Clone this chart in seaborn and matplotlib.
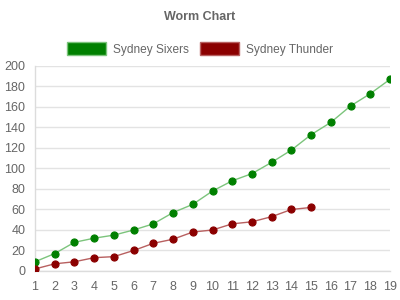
import matplotlib
matplotlib.use("Agg")
import matplotlib.pyplot as plt
from matplotlib.patches import Patch
import seaborn as sns
import pandas as pd

overs = list(range(1, 20))
sixers = [9, 17, 28, 32, 35, 40, 46, 57, 65, 78, 88, 95, 106, 118, 133, 145, 161, 173, 187]
thunder = [2, 7, 9, 13, 14, 20, 27, 31, 38, 40, 46, 48, 53, 60, 62]
teams = ["Sydney Sixers", "Sydney Thunder"]
point_colors = ["#008000", "#8b0000"]
line_colors = ["#7cc47c", "#b86060"]

df = pd.concat([
    pd.DataFrame({"over": overs[:len(sixers)], "runs": sixers, "team": teams[0]}),
    pd.DataFrame({"over": overs[:len(thunder)], "runs": thunder, "team": teams[1]}),
])

sns.set_style("white")
plt.rcParams['font.family'] = ['Liberation Sans', 'DejaVu Sans']

fig = plt.figure(figsize=(4, 3), dpi=100)
ax = fig.add_axes([0.0875, 0.0967, 0.8875, 0.6833])

for team, pc, lc in zip(teams, point_colors, line_colors):
    sub = df[df.team == team]
    sns.lineplot(data=sub, x="over", y="runs", color=lc, linewidth=1, ax=ax, zorder=2)
    sns.scatterplot(data=sub, x="over", y="runs", color=pc, s=26, edgecolor=pc,
                    linewidth=0.8, ax=ax, zorder=3)

ax.set_xlim(1, 19)
ax.set_ylim(0, 200)
ax.set_xticks(overs)
ax.set_xticklabels([str(o) for o in overs])
ax.set_yticks(range(0, 201, 20))
ax.set_xlabel("")
ax.set_ylabel("")
ax.grid(axis="y", color="#e3e3e3", linewidth=1)
ax.grid(axis="x", visible=False)
for s in ["top", "right"]:
    ax.spines[s].set_visible(False)
for s in ["left", "bottom"]:
    ax.spines[s].set_color("#dcdcdc")
    ax.spines[s].set_linewidth(1)
ax.tick_params(axis="both", colors="#dcdcdc", labelcolor="#666666", labelsize=9,
               length=5, width=1, pad=2)
ax.set_axisbelow(True)

fig.text(0.5, 0.943, "Worm Chart", ha="center", va="center", fontsize=9,
         fontweight="bold", color="#666666")

handles = [Patch(facecolor=pc, edgecolor=lc, linewidth=1, label=t)
           for t, pc, lc in zip(teams, point_colors, line_colors)]
fig.legend(handles=handles, loc="center", bbox_to_anchor=(0.5, 0.837), ncol=2,
           frameon=False, fontsize=8.6, labelcolor="#666666", handlelength=3.3,
           handleheight=1.35, handletextpad=0.6, columnspacing=0.9)

fig.savefig("out.png", dpi=100)
